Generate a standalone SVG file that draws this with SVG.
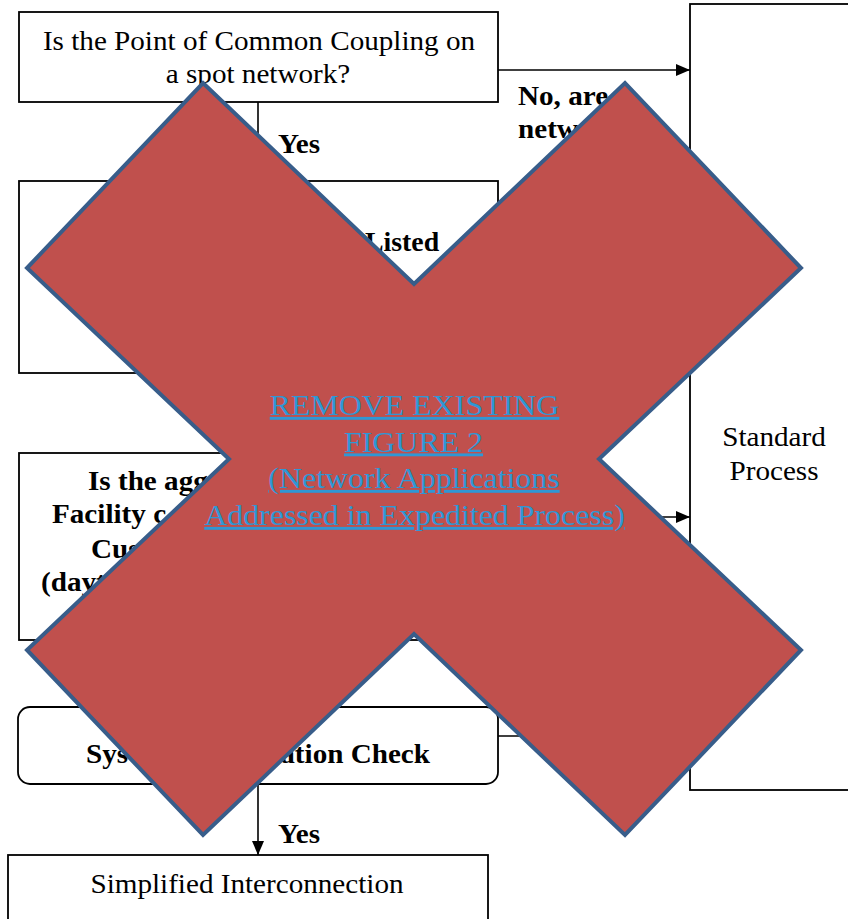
<svg xmlns="http://www.w3.org/2000/svg" width="848" height="919" viewBox="0 0 848 919">
<defs>
<marker id="ah" markerWidth="14" markerHeight="12" refX="14" refY="6" orient="auto" markerUnits="userSpaceOnUse">
<path d="M0,0 L14,6 L0,12 Z" fill="#000"/>
</marker>
<style>
.box{fill:#fff;stroke:#000;stroke-width:1.8}
.t{font-family:"Liberation Serif","Times New Roman",serif;font-size:26.5px;fill:#000}
.b{font-weight:bold}
.m{text-anchor:middle}
.c{fill:none;stroke:#000;stroke-width:1.6}
.x{fill:#C0504D;stroke:#385D8A;stroke-width:4;stroke-linejoin:miter}
.xt{font-family:"Liberation Serif","Times New Roman",serif;font-size:29px;fill:#2F97D5;text-anchor:middle;text-decoration:underline}
</style>
</defs>
<rect width="848" height="919" fill="#fff"/>
<g id="standard">
<rect class="box" x="690" y="4" width="200" height="786"/>
<text class="t m" transform="translate(774,446) scale(1.1,1)">Standard</text>
<text class="t m" transform="translate(774,480) scale(1.1,1)">Process</text>
</g>
<g id="pcc">
<rect class="box" x="19" y="12" width="479" height="90"/>
<text class="t m" transform="translate(259,49.5) scale(1.1,1)">Is the Point of Common Coupling on</text>
<text class="t m" transform="translate(258,83) scale(1.1,1)">a spot network?</text>
</g>
<g id="listed">
<rect class="box" x="19" y="181" width="479" height="192"/>
<text class="t b" transform="translate(365,251) scale(1.05,1)">Listed</text>
</g>
<g id="aggregate">
<rect class="box" x="19" y="453" width="479" height="187"/>
<text class="t b" transform="translate(88,490) scale(1.1,1)">Is the agg</text>
<text class="t b" transform="translate(52,523) scale(1.1,1)">Facility c</text>
<text class="t b" transform="translate(91,558) scale(1.1,1)">Cus</text>
<text class="t b" transform="translate(41,591) scale(1.1,1)">(dayt</text>
</g>
<g id="check">
<rect class="box" x="18" y="707" width="480" height="77" rx="12" ry="12"/>
<text class="t b" transform="translate(86,763) scale(1.1,1)">Sys</text>
<text class="t b" text-anchor="end" transform="translate(430,763) scale(1.1,1)">ation Check</text>
</g>
<g id="simplified">
<rect class="box" x="8" y="855" width="480" height="80"/>
<text class="t m" transform="translate(247,893) scale(1.1,1)">Simplified Interconnection</text>
</g>
<g id="connectors">
<line class="c" x1="498" y1="70" x2="690" y2="70" marker-end="url(#ah)"/>
<line class="c" x1="258" y1="102" x2="258" y2="181" marker-end="url(#ah)"/>
<line class="c" x1="498" y1="517" x2="690" y2="517" marker-end="url(#ah)"/>
<line class="c" x1="498" y1="736" x2="690" y2="736" marker-end="url(#ah)"/>
<line class="c" x1="258" y1="784" x2="258" y2="855" marker-end="url(#ah)"/>
<text class="t b" transform="translate(518,105) scale(1.1,1)">No, are</text>
<text class="t b" transform="translate(518,138) scale(1.1,1)">netw</text>
<text class="t b" transform="translate(278,153) scale(1.1,1)">Yes</text>
<text class="t b" transform="translate(278,843) scale(1.1,1)">Yes</text>
</g>
<g id="remove-mark">
<polygon class="x" points="203,83 414,284 625,83 801,268 599,459 801,650 625,835 414,634 203,835 27,650 229,459 27,268"/>
<text class="xt" transform="translate(414.5,415) scale(1.1,1)">REMOVE EXISTING</text>
<text class="xt" transform="translate(413.5,451.5) scale(1.1,1)">FIGURE 2</text>
<text class="xt" transform="translate(414,488) scale(1.1,1)">(Network Applications</text>
<text class="xt" transform="translate(414.5,525) scale(1.1,1)">Addressed in Expedited Process)</text>
</g>
</svg>
